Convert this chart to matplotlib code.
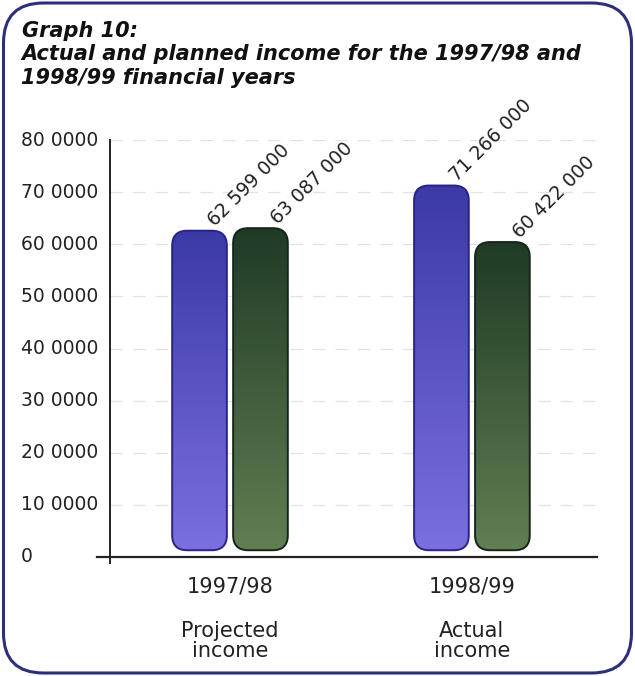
import numpy as np
import matplotlib.pyplot as plt
from matplotlib.patches import FancyBboxPatch
from matplotlib.colors import LinearSegmentedColormap
from matplotlib.transforms import blended_transform_factory

years = ["1997/98", "1998/99"]
kinds = ["Projected\nincome", "Actual\nincome"]
blue_vals = [62599000, 71266000]
green_vals = [63087000, 60422000]
bar_labels_blue = ["62 599 000", "71 266 000"]
bar_labels_green = ["63 087 000", "60 422 000"]
yticks = [0, 10e6, 20e6, 30e6, 40e6, 50e6, 60e6, 70e6, 80e6]
ytick_labels = ["0", "10 0000", "20 0000", "30 0000", "40 0000",
                "50 0000", "60 0000", "70 0000", "80 0000"]

plt.rcParams['font.family'] = ['DejaVu Sans']

W, H = 635, 676
fig = plt.figure(figsize=(W / 100, H / 100), dpi=100)

# frame around the whole picture
bg = fig.add_axes([0, 0, 1, 1])
bg.set_xlim(0, W)
bg.set_ylim(0, H)
bg.axis('off')
bg.add_patch(FancyBboxPatch((3.5, 3), W - 7, H - 6,
                            boxstyle="round,pad=0,rounding_size=40",
                            fc='white', ec='#2b2f7c', lw=2.2))

fig.text(22 / W, 1 - 31 / H, "Graph 10:", fontsize=15, style='italic',
         weight='bold', va='center', ha='left', color='#111111')
fig.text(21 / W, 1 - 66 / H,
         "Actual and planned income for the 1997/98 and\n1998/99 financial years",
         fontsize=15, style='italic', weight='bold', va='center', ha='left',
         color='#111111', linespacing=1.25)

# plotting area: x axis at y=557px, top tick at 140px
left, right, top, bottom = 110, 597, 140, 557
ax = fig.add_axes([left / W, 1 - bottom / H, (right - left) / W, (bottom - top) / H])
ax.set_xlim(-0.496, 1.517)
ax.set_ylim(0, 80e6)
ax.patch.set_alpha(0)
for s in ['top', 'right', 'left', 'bottom']:
    ax.spines[s].set_visible(False)

ax.set_yticks(yticks)
ax.set_yticklabels([])
ax.tick_params(axis='y', length=0)
ax.set_xticks([])
ax.yaxis.grid(True, color='#e2e2e2', lw=0.9, ls=(0, (10, 8)))
ax.set_axisbelow(True)

# y labels are left aligned in the original
ylab_trans = blended_transform_factory(fig.transFigure, ax.transData)
for v, lab in zip(yticks, ytick_labels):
    ax.text(21 / W, v, lab, transform=ylab_trans, ha='left', va='center',
            fontsize=13.5, color='#222222')

# axis lines (a little past the corner, like the original)
ax.plot([-0.55, 1.517], [0, 0], color='#222222', lw=1.6, clip_on=False, zorder=3)
ax.plot([-0.496, -0.496], [-1.2e6, 80e6], color='#222222', lw=1.4, clip_on=False, zorder=3)

# rounded gradient bars
px_x = (ax.get_xlim()[1] - ax.get_xlim()[0]) / (right - left)
px_y = (ax.get_ylim()[1] - ax.get_ylim()[0]) / (bottom - top)
aspect = px_y / px_x
radius = 15 * px_x
width = 0.226
offset = 0.126
base = 1.3e6

blue_cmap = LinearSegmentedColormap.from_list('b', ['#7a70e0', '#3c3aa4'])
green_cmap = LinearSegmentedColormap.from_list('g', ['#617f52', '#1f3a26'])
grad = np.linspace(0, 1, 256).reshape(-1, 1)


def rounded_bar(xc, val, cmap, edge):
    x0 = xc - width / 2
    patch = FancyBboxPatch((x0, base), width, val - base,
                           boxstyle=f"round,pad=0,rounding_size={radius}",
                           mutation_aspect=aspect, fc='none', ec=edge, lw=1.4,
                           zorder=4)
    ax.add_patch(patch)
    im = ax.imshow(grad, extent=[x0, x0 + width, base, val], origin='lower',
                   cmap=cmap, aspect='auto', zorder=3.5)
    im.set_clip_path(patch)


for i in range(len(years)):
    rounded_bar(i - offset, blue_vals[i], blue_cmap, '#26238a')
    rounded_bar(i + offset, green_vals[i], green_cmap, '#15251a')
    ax.text(i - offset + 0.075, blue_vals[i] + 0.1e6, bar_labels_blue[i],
            rotation=45, rotation_mode='anchor', ha='left', va='bottom',
            fontsize=13.5, color='#222222')
    ax.text(i + offset + 0.085, green_vals[i] + 0.1e6, bar_labels_green[i],
            rotation=45, rotation_mode='anchor', ha='left', va='bottom',
            fontsize=13.5, color='#222222')

ax.set_aspect('auto')
ax.set_xlim(-0.496, 1.517)
ax.set_ylim(0, 80e6)

trans = blended_transform_factory(ax.transData, fig.transFigure)
for i in range(len(years)):
    ax.text(i, 1 - 587 / H, years[i], transform=trans, ha='center', va='center',
            fontsize=15, color='#222222')
    ax.text(i, 1 - 641 / H, kinds[i], transform=trans, ha='center', va='center',
            fontsize=15, color='#222222', linespacing=1.0)

fig.savefig('out.png', dpi=100)
